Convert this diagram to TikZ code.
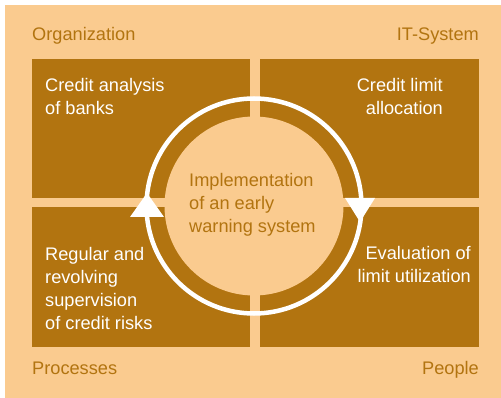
\documentclass[tikz,border=0pt]{standalone}
\usepackage{fontspec}
\setmainfont{Liberation Sans}
\definecolor{boxbrown}{RGB}{178,116,16}
\definecolor{paleorange}{RGB}{250,203,143}
\begin{document}
\begin{tikzpicture}[x=1pt,y=-1pt,
  quad/.style={fill=boxbrown, draw=none},
  boxtext/.style={text=white, inner sep=0pt, font=\fontsize{18.2}{23}\selectfont},
  cornerlabel/.style={text=boxbrown, inner sep=0pt, font=\fontsize{18.2}{23}\selectfont},
  arrowtri/.style={fill=white, draw=none}]
\useasboundingbox (0,0) rectangle (501,398);
\fill[white] (0,0) rectangle (501,398);
\fill[paleorange] (5,5) rectangle (501,398);
% quadrants
\path[quad] (32,59) rectangle (250,198);
\path[quad] (260,59) rectangle (479,198);
\path[quad] (32,207) rectangle (250,347);
\path[quad] (260,207) rectangle (479,347);
% centre
\coordinate (c) at (254,206);
\node[circle, fill=paleorange, inner sep=0pt, minimum size=179pt] (core) at (c) {};
\draw[white, line width=4.5pt] (c) circle (107.5);
% arrow heads on ring
\path[arrowtri] (147,193) -- (164,217) -- (130,217) -- cycle;
\path[arrowtri] (345,198) -- (375,198) -- (360,222) -- cycle;
% texts (base anchor = baseline of last line)
\node[boxtext, anchor=base west, align=left] (t1) at (45,115) {Credit analysis\\of banks};
\node[boxtext, anchor=base east, align=right] (t2) at (443,115) {Credit limit\\allocation};
\node[boxtext, anchor=base west, align=left] (t3) at (45,329) {Regular and\\revolving\\supervision\\of credit risks};
\node[boxtext, anchor=base east, align=right] (t4) at (471,283) {Evaluation of\\limit utilization};
\node[cornerlabel, anchor=base west, align=left] (core text) at (189,233) {Implementation\\of an early\\warning system};
\node[cornerlabel, anchor=base west] (org) at (32,41) {Organization};
\node[cornerlabel, anchor=base east] (its) at (479,41) {IT-System};
\node[cornerlabel, anchor=base west] (proc) at (32,374) {Processes};
\node[cornerlabel, anchor=base east] (ppl) at (479,374) {People};
\end{tikzpicture}
\end{document}
